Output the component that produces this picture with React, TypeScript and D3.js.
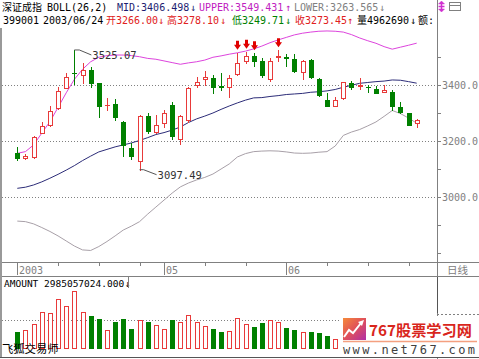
import React, { useEffect } from 'react';
import * as d3 from 'd3';

// ---- data (深证成指 399001, daily, 2003-04-07 .. 2003-06-24) ----
const opens = [3156,3138,3142,3228,3257,3317,3390,3444,3436,3454,3406,3328,3332,3269,3174,3129,3289,3231,3265,3329,3206,3275,3400,3421,3424,3396,3392,3439,3484,3504,3487,3421,3499,3499,3492,3448,3489,3421,3346,3325,3352,3408,3398,3394,3385,3376,3376,3323,3299,3266.00];
const highs = [3180,3153,3218,3269,3325,3394,3444,3525.07,3480,3466,3408,3352,3349,3270,3194,3293,3299,3293,3311,3340,3292,3394,3430,3451,3436,3442,3436,3515,3519,3513,3496,3496,3524,3511,3511,3489,3492,3424,3370,3358,3412,3414,3424,3400,3396,3400,3382,3340,3299,3278.10];
const lows = [3132,3136,3139,3227,3254,3314,3389,3402,3407,3394,3285,3311,3275,3146,3134,3097.49,3227,3227,3251,3206,3189,3269,3392,3400,3370,3382,3358,3436,3478,3468,3430,3416,3487,3468,3448,3421,3424,3361,3325,3325,3349,3385,3385,3376,3370,3376,3311,3301,3257,3249.71];
const closes = [3138,3147,3213,3255,3307,3379,3430,3442,3454,3408,3325,3329,3285,3186,3146,3291,3234,3257,3301,3218,3289,3388,3412,3430,3394,3393,3426,3478,3504,3487,3436,3487,3502,3497,3451,3487,3430,3364,3325,3346,3410,3392,3400,3392,3373,3382,3325,3305,3257,3273.45];

const upperBand = [3156,3162,3186,3228,3269,3320,3372,3420,3456,3483,3499,3505,3507,3507,3505,3501,3495,3492,3486,3480,3474,3479,3483,3489,3499,3504,3510,3515,3521,3529,3539,3551,3561,3570,3579,3585,3589,3592,3593,3592,3589,3580,3568,3558,3549,3537,3528,3535,3542,3549.431];
const midBand = [3031,3035,3043,3054,3067,3081,3096,3112,3130,3146,3161,3170,3179,3186,3193,3202,3212,3223,3230,3239,3250,3266,3279,3289,3300,3313,3325,3336,3346,3354,3355,3359,3362,3366,3368,3370,3374,3376,3379,3384,3392,3399,3406,3409,3412,3414,3418,3417,3412,3406.498];
const lowerBand = [2914,2912,2904,2891,2877,2861,2843,2825,2811,2809,2823,2841,2861,2882,2896,2912,2939,2964,2989,3014,3036,3050,3061,3070,3082,3100,3118,3143,3155,3162,3164,3165,3164,3161,3157,3156,3157,3160,3162,3182,3220,3232,3241,3254,3268,3288,3309,3298,3282,3263.565];

// turnover, in 亿 (1e8 yuan)
const amountYi = [35.8,39.3,51.1,75.9,73.9,104.1,89.0,120.0,75.9,68.9,61.5,38.7,55.2,62.7,40.8,59.4,56.5,49.7,41.4,60.6,55.2,71.0,55.2,48.2,40.8,35.2,37.2,63.5,51.1,46.1,53.2,60.0,56.5,42.8,39.3,35.2,34.6,32.5,26.9,20.7,45.0,33.0,30.0,28.0,27.0,25.0,40.0,33.0,35.0,29.85057024];
const lastVolume = 4962690;
const prevVolume = 5210000;

const signalIdx = [27, 28, 29, 32];
const weekTickIdx = [0, 5, 10, 15, 18, 23, 28, 33, 38, 43, 48];
const monthIdx = [0, 18, 33];
const monthLabels = ['2003', '05', '06'];
const priceTicks = [2800, 2900, 3000, 3100, 3200, 3300, 3400, 3500];
const priceLabels = [3000, 3200, 3400];

const MONO = "'DejaVu Sans Mono', 'Noto Sans CJK SC', monospace";
const CJK = "'Noto Sans CJK SC', 'Noto Sans', sans-serif";
const UP = '#e83a3a';
const DOWN = '#008000';
const TXT_RED = '#e02020';
const GRAY = '#808080';

const arrow = (cur: number, prev: number) => (cur >= prev ? '↑' : '↓');

export default function App() {
  useEffect(() => {
    document.body.style.margin = '0';
  }, []);

  const n = closes.length;
  const x = d3.scaleLinear().domain([0, n - 1]).range([17.3, 416.7]);
  const y = d3.scaleLinear().domain([3000, 3400]).range([197, 85]);
  const vy = d3.scaleLinear().domain([0, 120]).range([349, 291]);
  const px = (i: number) => Math.round(x(i));
  const bandLine = d3.line<number>().x((_, i) => x(i)).y((d) => y(d));

  const last = n - 1;

  const candleEls = closes.map((c, i) => {
    const o = opens[i];
    const cx = px(i);
    const up = c >= o;
    const yT = Math.round(y(Math.max(o, c)));
    const yB = Math.round(y(Math.min(o, c)));
    const yH = Math.round(y(highs[i]));
    const yL = Math.round(y(lows[i]));
    if (up) {
      return (
        <g key={i} stroke={UP} fill="none" shapeRendering="crispEdges">
          {yH < yT && <line x1={cx + 0.5} x2={cx + 0.5} y1={yH} y2={yT} />}
          {yL > yB && <line x1={cx + 0.5} x2={cx + 0.5} y1={yB + 1} y2={yL + 1} />}
          {yB - yT >= 1 ? (
            <rect x={cx - 1.5} y={yT + 0.5} width={4} height={yB - yT} fill="#fff" />
          ) : (
            <line x1={cx - 2} x2={cx + 3} y1={yT + 0.5} y2={yT + 0.5} />
          )}
        </g>
      );
    }
    return (
      <g key={i} shapeRendering="crispEdges">
        <line x1={cx + 0.5} x2={cx + 0.5} y1={yH} y2={yL + 1} stroke={DOWN} />
        <rect x={cx - 2} y={yT} width={5} height={Math.max(1, yB - yT + 1)} fill={DOWN} />
      </g>
    );
  });

  const volEls = amountYi.map((v, i) => {
    const cx = px(i);
    const up = i === 0 ? closes[i] >= opens[i] : closes[i] >= closes[i - 1];
    const top = Math.round(vy(v));
    if (up) {
      return (
        <rect key={i} x={cx - 1.5} y={top + 0.5} width={4} height={349 - top - 1}
          fill="#fff" stroke={UP} shapeRendering="crispEdges" />
      );
    }
    return <rect key={i} x={cx - 2} y={top} width={5} height={349 - top} fill={DOWN} shapeRendering="crispEdges" />;
  });

  const sigEls = signalIdx.map((i) => {
    const cx = px(i) + 0.5;
    const tip = y(highs[i]) - 3;
    const d = `M${cx - 1.5},${tip - 9} H${cx + 1.5} V${tip - 5} H${cx + 3.5} L${cx},${tip} L${cx - 3.5},${tip - 5} H${cx - 1.5} Z`;
    return <path key={i} d={d} fill="#e00000" />;
  });

  const hiI = d3.maxIndex(highs);
  const loI = d3.minIndex(lows);
  const hx = x(hiI), hy = y(highs[hiI]);
  const lx = x(loI), ly = y(lows[loI]);

  const dotted = (yy: number, x1 = 2, x2 = 437) => (
    <line x1={x1} x2={x2} y1={yy} y2={yy} stroke={GRAY} strokeDasharray="1,2" shapeRendering="crispEdges" />
  );

  const t = (xx: number, yy: number, s: string, fill = '#000', size = 10, family = MONO) => (
    <text x={xx} y={yy} fill={fill} fontSize={size} fontFamily={family}>{s}</text>
  );

  const amountLabel = (amountYi[last] * 1e8).toFixed(3);

  return (
    <svg width={479} height={359} style={{ position: 'absolute', left: 0, top: 0, background: '#fff' }}>
      <defs>
        <clipPath id="mainClip"><rect x={2} y={28} width={435} height={234} /></clipPath>
        <clipPath id="hdrClip"><rect x={0} y={0} width={437} height={28} /></clipPath>
        <linearGradient id="logoGrad" x1="0" y1="0" x2="1" y2="1">
          <stop offset="0" stopColor="#f58a3a" />
          <stop offset="0.5" stopColor="#e0505a" />
          <stop offset="1" stopColor="#b02ea8" />
        </linearGradient>
      </defs>
      <rect x={0} y={0} width={479} height={359} fill="#fff" />

      {/* header */}
      <g clipPath="url(#hdrClip)">
        {t(2, 11, '深证成指', '#000', 10, CJK)}
        {t(47, 11, 'BOLL(26,2)')}
        {t(117, 11, `MID:${midBand[last].toFixed(3)}`, '#1c1c70')}
        {t(190, 11, arrow(midBand[last], midBand[last - 1]), '#1c1c70')}
        {t(199, 11, `UPPER:${upperBand[last].toFixed(3)}`, '#c020c0')}
        {t(285, 11, arrow(upperBand[last], upperBand[last - 1]), '#c020c0')}
        {t(294, 11, `LOWER:${lowerBand[last].toFixed(3)}`, GRAY)}
        {t(379, 11, arrow(lowerBand[last], lowerBand[last - 1]), GRAY)}

        {t(3, 24, '399001')}
        {t(43, 24, '2003/06/24')}
        {t(106, 24, `开${opens[last].toFixed(2)}`, TXT_RED)}
        {t(158, 24, arrow(opens[last], opens[last - 1]), TXT_RED)}
        {t(167, 24, `高${highs[last].toFixed(2)}`, TXT_RED)}
        {t(220, 24, arrow(highs[last], highs[last - 1]), TXT_RED)}
        {t(232, 24, `低${lows[last].toFixed(2)}`, DOWN)}
        {t(285, 24, arrow(lows[last], lows[last - 1]), DOWN)}
        {t(295, 24, `收${closes[last].toFixed(2)}`, TXT_RED)}
        {t(347, 24, arrow(closes[last], closes[last - 1]), TXT_RED)}
        {t(357, 24, `量${lastVolume}`)}
        {t(410, 24, arrow(lastVolume, prevVolume))}
        {t(418, 24, '额:')}
      </g>
      <g stroke="#d030d0" strokeWidth={1.5} fill="#d030d0">
        <line x1={441.5} x2={441.5} y1={2} y2={11} />
        <line x1={438.5} x2={444.5} y1={6.5} y2={6.5} />
        <path d="M438.5,4 L441.5,1 L444.5,4 Z" strokeWidth={0.5} />
        <path d="M438.5,9 L441.5,12 L444.5,9 Z" strokeWidth={0.5} />
      </g>
      <rect x={449.5} y={2.5} width={11} height={8} fill="none" stroke={GRAY} />
      <line x1={449.5} x2={460.5} y1={5.5} y2={5.5} stroke={GRAY} />

      {priceLabels.map((v) => <g key={v}>{dotted(Math.round(y(v)) + 0.5)}</g>)}

      <g clipPath="url(#mainClip)" fill="none" strokeWidth={1}>
        <path d={bandLine(lowerBand) || ''} stroke="#a8a0a8" />
        <path d={bandLine(midBand) || ''} stroke="#2c2c78" />
        <path d={bandLine(upperBand) || ''} stroke="#dd44dd" />
      </g>

      <g clipPath="url(#mainClip)">{candleEls}</g>
      {sigEls}

      <path d={`M${hx},${hy} H${hx + 5} L${hx + 17},${hy + 5}`} fill="none" stroke="#555" />
      <text x={hx + 18} y={hy + 9} fontSize={10.5} fontFamily={MONO} fill="#333">{highs[hiI].toFixed(2)}</text>
      <path d={`M${lx},${ly} H${lx + 4} L${lx + 17},${ly + 5}`} fill="none" stroke="#555" />
      <text x={lx + 18} y={ly + 9.5} fontSize={10.5} fontFamily={MONO} fill="#333">{lows[loI].toFixed(2)}</text>

      <line x1={437.5} x2={437.5} y1={0} y2={359} stroke={GRAY} />
      {priceTicks.map((v) => {
        const yy = Math.round(y(v)) + 0.5;
        return <line key={v} x1={437.5} x2={441} y1={yy} y2={yy} stroke={GRAY} />;
      })}
      {priceLabels.map((v) => (
        <text key={v} x={442} y={y(v) + 4} fontSize={10} fontFamily={MONO} fill={GRAY}>{v.toFixed(1)}</text>
      ))}

      <line x1={0} x2={479} y1={262.5} y2={262.5} stroke={GRAY} />
      <line x1={0} x2={479} y1={276.5} y2={276.5} stroke={GRAY} />
      {weekTickIdx.map((i) => (
        <line key={i} x1={px(i) + 0.5} x2={px(i) + 0.5} y1={262.5} y2={266} stroke={GRAY} />
      ))}
      {monthIdx.map((i, k) => (
        <g key={i}>
          <line x1={px(i) + 0.5} x2={px(i) + 0.5} y1={263} y2={275} stroke={GRAY} />
          <text x={px(i) + 2} y={273.5} fontSize={10} fontFamily={MONO} fill={GRAY}>{monthLabels[k]}</text>
        </g>
      ))}
      <text x={447} y={274} fontSize={10.5} fontFamily={CJK} fill={GRAY}>日线</text>

      {dotted(Math.round(vy(60)) + 0.5)}
      <g>{volEls}</g>
      <text x={4} y={286.5} fontSize={9.5} fontFamily={MONO} fill="#000">
        {`AMOUNT ${amountLabel}`}
      </text>
      <text x={125} y={286.5} fontSize={9.5} fontFamily={MONO} fill="#000">{arrow(amountYi[last], amountYi[last - 1])}</text>
      <line x1={128.5} x2={128.5} y1={277} y2={288} stroke={GRAY} />
      <line x1={437.5} x2={437.5} y1={277} y2={313} stroke="#555" />
      <line x1={437} x2={479} y1={314.5} y2={314.5} stroke={GRAY} strokeDasharray="2,2" />
      <text x={2} y={353} fontSize={11.3} fontFamily={CJK} fill="#000">飞狐交易师</text>

      <rect x={341} y={316} width={138} height={41} fill="#fff" />
      <rect x={343} y={318} width={23} height={22} fill="url(#logoGrad)" />
      <path d="M344,337 L349,330 L353,333 L361,323" fill="none" stroke="#fff" strokeWidth={2} />
      <path d="M358,322 L364,320 L362,326 Z" fill="#fff" />
      <text x={369} y={336} fontSize={15} fontWeight={700} fontFamily={CJK} fill="#d9261c"
        textLength={103} lengthAdjust="spacingAndGlyphs">767股票学习网</text>
      <line x1={343} x2={477} y1={341.5} y2={341.5} stroke="#f4a080" strokeWidth={1.5} />
      <text x={343} y={353.5} fontSize={12} fontFamily={MONO} fill="#404040"
        textLength={132} lengthAdjust="spacing">www.net767.com</text>

      <line x1={1} x2={1} y1={28} y2={358} stroke="#999" strokeWidth={2} />
      <line x1={0} x2={479} y1={357.5} y2={357.5} stroke="#555" />
    </svg>
  );
}
